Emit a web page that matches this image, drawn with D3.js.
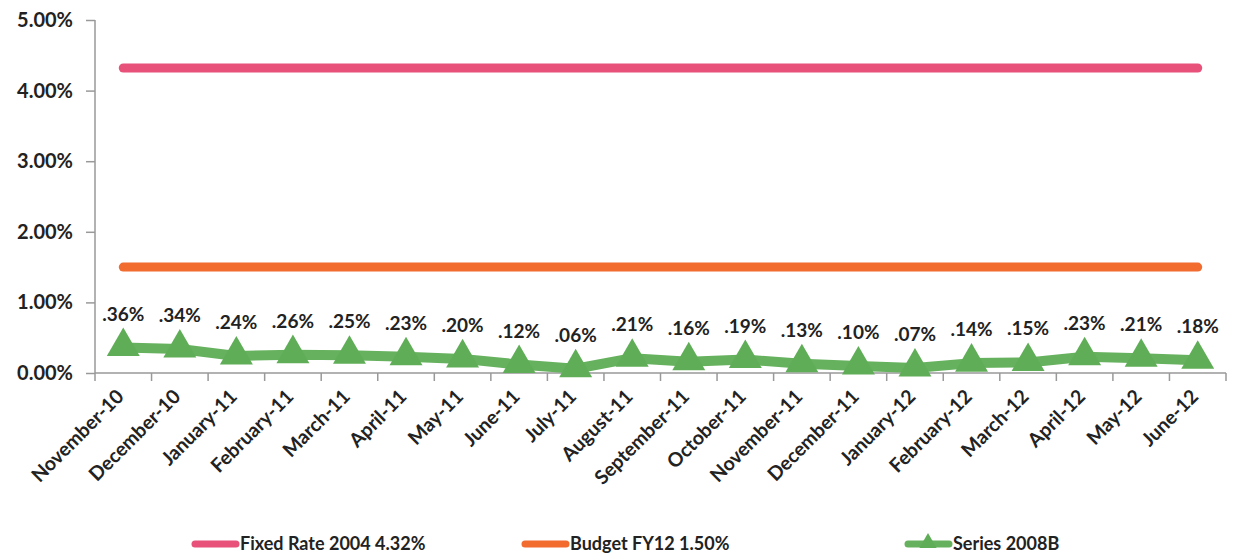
<!DOCTYPE html>
<html>
<head>
<meta charset="utf-8">
<script src="https://cdn.jsdelivr.net/npm/d3@7"></script>
<style>
  body { margin: 0; background: #fff; }
  text { font-family: Lato, "Open Sans", sans-serif; font-weight: bold; fill: #222; }
</style>
</head>
<body>
<div id="chart"></div>
<script>
let months = ["November-10", "December-10", "January-11", "February-11", "March-11", "April-11",
              "May-11", "June-11", "July-11", "August-11", "September-11", "October-11",
              "November-11", "December-11", "January-12", "February-12", "March-12", "April-12",
              "May-12", "June-12"];
let series2008B = [0.36, 0.34, 0.24, 0.26, 0.25, 0.23, 0.20, 0.12, 0.06, 0.21,
                   0.16, 0.19, 0.13, 0.10, 0.07, 0.14, 0.15, 0.23, 0.21, 0.18];
let fixedRate = months.map(() => 4.32);
let budget = months.map(() => 1.50);
let yTicks = [0, 1, 2, 3, 4, 5];
let legendNames = ["Fixed Rate 2004 4.32%", "Budget FY12 1.50%", "Series 2008B"];

let width = 1233, height = 556;
let margin = { top: 20, right: 7, bottom: 183, left: 95 };

let svg = d3.select("#chart").append("svg")
  .attr("width", width)
  .attr("height", height);

let x = d3.scaleBand()
  .domain(months)
  .range([margin.left, width - margin.right]);

let y = d3.scaleLinear()
  .domain([0, 5])
  .range([height - margin.bottom, margin.top]);

let cx = d => x(d) + x.bandwidth() / 2;

// y axis
let yAxis = svg.append("g")
  .attr("transform", "translate(" + margin.left + ",0)")
  .call(d3.axisLeft(y).tickValues(yTicks).tickSize(9).tickPadding(13)
    .tickFormat(d => d3.format(".2f")(d) + "%"));
yAxis.selectAll("text").style("font-size", "20px");
yAxis.selectAll("line, path").attr("stroke", "#999").attr("stroke-width", 1.5);
yAxis.select("path").attr("d", "M0," + y(5) + "V" + y(0));

// x axis
let xAxis = svg.append("g")
  .attr("transform", "translate(0," + y(0) + ")")
  .call(d3.axisBottom(x).tickSize(0));
xAxis.select("path").attr("stroke", "#999").attr("stroke-width", 1.5)
  .attr("d", "M" + margin.left + ",0H" + (width - margin.right));
xAxis.selectAll("text")
  .style("font-size", "19.5px")
  .attr("text-anchor", "end")
  .attr("dy", "0.35em")
  .attr("x", 0).attr("y", 0)
  .attr("transform", "translate(-3,20) rotate(-45)");

// tick marks between categories
svg.append("g").selectAll("line")
  .data(d3.range(months.length + 1))
  .enter().append("line")
  .attr("x1", i => margin.left + i * x.bandwidth())
  .attr("x2", i => margin.left + i * x.bandwidth())
  .attr("y1", y(0))
  .attr("y2", y(0) + 8)
  .attr("stroke", "#999")
  .attr("stroke-width", 1.5);

let line = d3.line()
  .x((d, i) => cx(months[i]))
  .y(d => y(d));

svg.append("path")
  .datum(fixedRate)
  .attr("d", line)
  .attr("fill", "none")
  .attr("stroke", "#E8517A")
  .attr("stroke-width", 9)
  .attr("stroke-linecap", "round");

svg.append("path")
  .datum(budget)
  .attr("d", line)
  .attr("fill", "none")
  .attr("stroke", "#F26B2F")
  .attr("stroke-width", 9)
  .attr("stroke-linecap", "round");

svg.append("path")
  .datum(series2008B)
  .attr("d", line)
  .attr("fill", "none")
  .attr("stroke", "#66B15E")
  .attr("stroke-width", 10)
  .attr("stroke-linejoin", "round");

let tri = d3.symbol().type(d3.symbolTriangle).size(470);

svg.append("g").selectAll("path")
  .data(series2008B)
  .enter().append("path")
  .attr("d", tri)
  .attr("transform", (d, i) => "translate(" + cx(months[i]) + "," + (y(d) - 1) + ")")
  .attr("fill", "#5FAE57");

svg.append("g").selectAll("text")
  .data(series2008B)
  .enter().append("text")
  .attr("x", (d, i) => cx(months[i]))
  .attr("y", d => y(d) - 27)
  .attr("text-anchor", "middle")
  .style("font-size", "19px")
  .text(d => "." + d3.format("02d")(Math.round(d * 100)) + "%");

// legend
let legendX = [192, 522, 905];
let legendColors = ["#E8517A", "#F26B2F", "#66B15E"];
let legend = svg.append("g").selectAll("g")
  .data(legendNames)
  .enter().append("g")
  .attr("transform", (d, i) => "translate(" + legendX[i] + ",544)");

legend.append("line")
  .attr("x1", 3)
  .attr("x2", 44)
  .attr("stroke", (d, i) => legendColors[i])
  .attr("stroke-width", 7)
  .attr("stroke-linecap", "round");

legend.filter((d, i) => i === 2).append("path")
  .attr("d", d3.symbol().type(d3.symbolTriangle).size(130))
  .attr("transform", "translate(23,-1)")
  .attr("fill", "#5FAE57");

legend.append("text")
  .attr("x", 48)
  .attr("dy", "0.35em")
  .style("font-size", "18px")
  .text(d => d);
</script>
</body>
</html>
